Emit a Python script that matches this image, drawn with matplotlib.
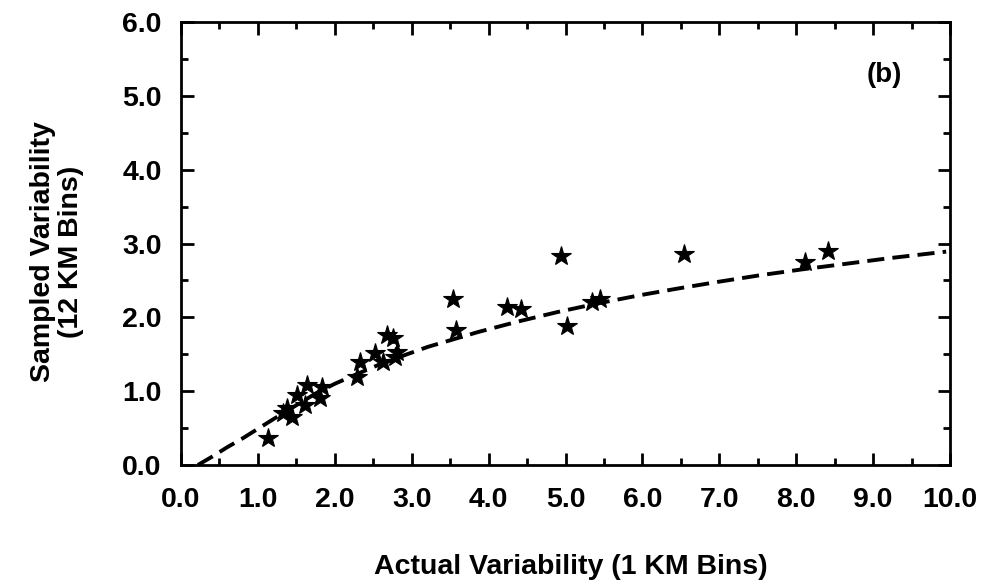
import matplotlib
matplotlib.use("Agg")
import matplotlib.pyplot as plt
import numpy as np

plt.rcParams['font.family'] = ['Liberation Sans', 'DejaVu Sans']
plt.rcParams['font.weight'] = 'bold'

# star points: actual (1 km) vs sampled (12 km) variability
actual = [1.13, 1.33, 1.44, 1.38, 1.51, 1.64, 1.61, 1.81, 1.84, 2.29, 2.33,
          2.52, 2.63, 2.68, 2.76, 2.81, 2.78, 3.54, 3.58, 4.24, 4.42, 4.94,
          5.02, 5.34, 5.45, 6.54, 8.11, 8.41]
sampled = [0.37, 0.70, 0.65, 0.77, 0.95, 1.08, 0.81, 0.91, 1.05, 1.19, 1.40,
           1.52, 1.40, 1.76, 1.72, 1.53, 1.46, 2.25, 1.83, 2.14, 2.11, 2.83,
           1.88, 2.21, 2.25, 2.86, 2.75, 2.90]

# dashed fit curve
fit_x = [0.22, 0.40, 0.60, 0.80, 1.00, 1.20, 1.50, 1.77, 2.00, 2.24, 2.60,
         2.94, 3.21, 3.86, 4.37, 4.89, 5.38, 5.97, 6.46, 6.98, 7.53, 8.08,
         8.61, 9.20, 9.95]
fit_y = [0.00, 0.11, 0.24, 0.36, 0.49, 0.62, 0.81, 0.98, 1.10, 1.21, 1.37,
         1.50, 1.60, 1.80, 1.94, 2.07, 2.18, 2.30, 2.39, 2.48, 2.57, 2.65,
         2.72, 2.80, 2.89]

xticks = [0, 1, 2, 3, 4, 5, 6, 7, 8, 9, 10]
yticks = [0, 1, 2, 3, 4, 5, 6]

fig = plt.figure(figsize=(9.81, 5.81), dpi=100)
ax = fig.add_axes([181/981, 1-465/581, 769/981, 443/581])

ax.plot(fit_x, fit_y, color='black', lw=2.8, dashes=(4.4, 2.1),
        solid_capstyle='butt', dash_capstyle='butt')
ax.plot(actual, sampled, linestyle='none', marker='*', markersize=15,
        color='black', markeredgewidth=0.8)

ax.set_xlim(0, 10)
ax.set_ylim(0, 6)
ax.set_xticks(xticks)
ax.set_xticklabels(['%.1f' % v for v in xticks])
ax.set_yticks(yticks)
ax.set_yticklabels(['%.1f' % v for v in yticks])
ax.set_xticks(np.arange(0.5, 10, 1.0), minor=True)
ax.set_yticks(np.arange(0.5, 6, 1.0), minor=True)

for s in ax.spines.values():
    s.set_linewidth(2.0)
ax.tick_params(which='major', direction='in', length=9, width=2,
               top=True, right=True, labelsize=20.5, pad=14)
ax.tick_params(which='minor', direction='in', length=5, width=2,
               top=True, right=True)
ax.tick_params(axis='x', which='major', pad=16)

ax.text(0.915, 0.88, '(b)', transform=ax.transAxes, ha='center',
        va='center', fontsize=20, fontweight='bold')

fig.text(571/981, 1-567/581, 'Actual Variability (1 KM Bins)', ha='center',
         va='center', fontsize=20.5, fontweight='bold')
fig.text(57/981, 1-252/581, 'Sampled Variability\n(12 KM Bins)', rotation=90,
         ha='center', va='center', multialignment='center', fontsize=20.5,
         fontweight='bold', linespacing=1.05)

fig.savefig('out.png', dpi=100)
